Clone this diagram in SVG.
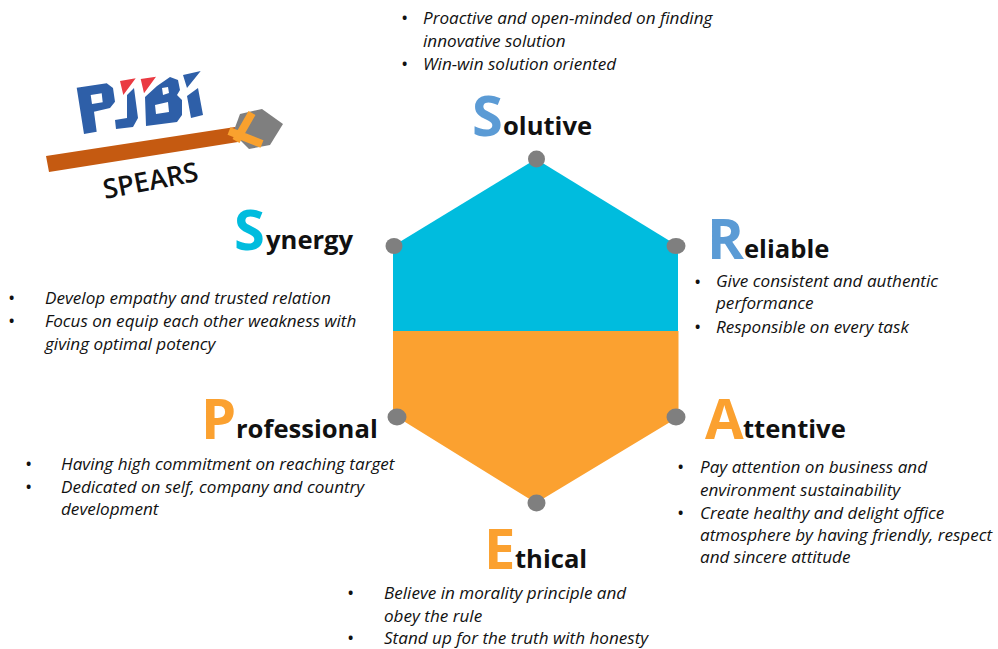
<svg xmlns="http://www.w3.org/2000/svg" width="998" height="649" viewBox="0 0 998 649">
<style>
text{font-family:"Open Sans","Noto Sans","Liberation Sans",sans-serif;fill:#111}
.b{font-size:17.100px;font-style:italic}
.d{font-size:14px;font-weight:700}
.h{font-size:25.600px;font-weight:700}
.c{font-size:56px;font-weight:700}
.dot{fill:#7f7f7f}
.blue{fill:#2e5fa8}
.red{fill:#ea3a42}
.band{stroke:#f9a12e;stroke-width:8;fill:none}
</style>
<rect width="998" height="649" fill="#fff"/>
<g id="logo">
<path d="M46 156L235 127L238 142L49 172Z" fill="#c55a11"/>
<path d="M240 114L262 109L283 124L270 145L249 149L233 133Z" fill="#7f7f7f"/>
<path class="band" d="M252 113L236 141M229 131L262 144"/>
<path class="blue" fill-rule="evenodd" d="M76.700 87.700L106.700 83.300L113 88L115 101.700L110 108L94 111.700L96.700 131.700L84 134ZM90.700 95L101.700 93.300L102.700 102.300L92 104Z"/>
<path class="blue" d="M127 95L134 88L138 118L133 127L116 129L115 120L127 118Z"/>
<path class="red" d="M120 81L135.700 78.300L123.300 95ZM140.700 79L156 76.700L144 93.300Z"/>
<path class="blue" fill-rule="evenodd" d="M145 97L157 86L170 77L178 80L180 90L177 95L182 100L182 115L177 122L146 126ZM162 88L168 87L169 93L163 95ZM155 105L168 102L169 112L156 114Z"/>
<path class="blue" d="M183 75L200.700 71L187 88ZM187 96L198 88L203 115L191 118Z"/>
<text x="105" y="199" transform="rotate(-11 105 199)" style="font-size:27px;font-weight:600">SPEARS</text>
</g>
<g id="hexagon">
<path d="M536 159L678 246V331H393V246Z" fill="#00bcde"/>
<path d="M393 331H678.500V417L536 503L397 417H393Z" fill="#fba130"/>
</g>
<g id="connectors">
<ellipse class="dot" cx="536.500" cy="159" rx="8.500" ry="8.500"/>
<ellipse class="dot" cx="394" cy="246" rx="8.500" ry="8"/>
<ellipse class="dot" cx="676" cy="246" rx="9.500" ry="8"/>
<ellipse class="dot" cx="397" cy="417" rx="9.500" ry="8.500"/>
<ellipse class="dot" cx="676" cy="417" rx="9.500" ry="8.500"/>
<ellipse class="dot" cx="536.500" cy="503" rx="9" ry="8.500"/>
</g>
<g id="solutive">
<text class="c" x="472" y="136" style="fill:#5b9bd5">S</text><text class="h" x="503" y="135">olutive</text>
<text class="d" x="402" y="23">•</text><text class="b" x="423" y="24">Proactive and open-minded on finding</text>
<text class="b" x="423" y="47">innovative solution</text>
<text class="d" x="402" y="69">•</text><text class="b" x="423" y="70">Win-win solution oriented</text>
</g>
<g id="reliable">
<text class="c" x="707" y="259" style="fill:#5b9bd5">R</text><text class="h" x="744" y="258">eliable</text>
<text class="d" x="695" y="287">•</text><text class="b" x="716" y="287">Give consistent and authentic</text>
<text class="b" x="716" y="309">performance</text>
<text class="d" x="695" y="332">•</text><text class="b" x="716" y="333">Responsible on every task</text>
</g>
<g id="attentive">
<text class="c" x="705" y="439" style="fill:#fba130">A</text><text class="h" x="743" y="438">ttentive</text>
<text class="d" x="678" y="472">•</text><text class="b" x="700" y="473">Pay attention on business and</text>
<text class="b" x="700" y="496">environment sustainability</text>
<text class="d" x="678" y="518">•</text><text class="b" x="700" y="519">Create healthy and delight office</text>
<text class="b" x="700" y="541">atmosphere by having friendly, respect</text>
<text class="b" x="700" y="563">and sincere attitude</text>
</g>
<g id="ethical">
<text class="c" x="484" y="569" style="fill:#fba130">E</text><text class="h" x="515" y="568">thical</text>
<text class="d" x="348" y="598">•</text><text class="b" x="384" y="599">Believe in morality principle and</text>
<text class="b" x="384" y="622">obey the rule</text>
<text class="d" x="348" y="643">•</text><text class="b" x="384" y="644">Stand up for the truth with honesty</text>
</g>
<g id="professional">
<text class="c" x="201" y="439" style="fill:#fba130">P</text><text class="h" x="236" y="438">rofessional</text>
<text class="d" x="26" y="469">•</text><text class="b" x="61" y="470">Having high commitment on reaching target</text>
<text class="d" x="26" y="492">•</text><text class="b" x="61" y="493">Dedicated on self, company and country</text>
<text class="b" x="61" y="515">development</text>
</g>
<g id="synergy">
<text class="c" x="234" y="250" style="fill:#00bcde">S</text><text class="h" x="266" y="249">ynergy</text>
<text class="d" x="9" y="303">•</text><text class="b" x="45" y="304">Develop empathy and trusted relation</text>
<text class="d" x="9" y="326">•</text><text class="b" x="45" y="327">Focus on equip each other weakness with</text>
<text class="b" x="45" y="350">giving optimal potency</text>
</g>
</svg>
